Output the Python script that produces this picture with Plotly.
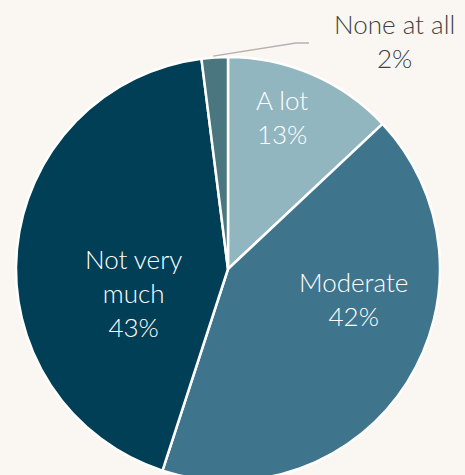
import plotly.graph_objects as go

# Survey answers, clockwise from 12 o'clock
categories = ["A lot", "Moderate", "Not very much", "None at all"]
shares = [13, 42, 43, 2]
slice_colors = ["#92B6C0", "#3F748D", "#013F56", "#4A7680"]

# Label text lines per slice (the category may wrap)
label_lines = [["A lot"], ["Moderate"], ["Not very", "much"], ["None at all"]]

BG = "#FAF7F2"
FONT = "Lato"

fig = go.Figure(
    go.Pie(
        labels=categories,
        values=shares,
        sort=False,
        direction="clockwise",
        rotation=0,
        marker=dict(colors=slice_colors, line=dict(color="white", width=2.5)),
        textinfo="none",
        hoverinfo="label+percent",
        showlegend=False,
        domain=dict(x=[0, 1], y=[0, 1]),
    )
)

# Label anchor positions in paper coordinates and their font colours
label_pos = [(0.627, 0.858), (0.795, 0.429), (0.276, 0.443), (0.892, 1.038)]
label_colors = ["white", "white", "white", "#404040"]

for lines, share, (x, y), col in zip(label_lines, shares, label_pos, label_colors):
    fig.add_annotation(
        x=x, y=y, xref="paper", yref="paper",
        text="<br>".join(lines + [f"{share}%"]),
        showarrow=False,
        font=dict(family=FONT, size=26, color=col, weight=300),
        align="center",
        xanchor="center", yanchor="middle",
    )

# Leader line for the small slice
fig.add_shape(
    type="path",
    path="M 0.465 1.002 L 0.660 1.033 L 0.691 1.033",
    xref="paper", yref="paper",
    line=dict(color="#B9AEAE", width=1.3),
)

# The pie runs slightly past the bottom of the window
fig.update_layout(
    width=465, height=481,
    margin=dict(l=16, r=25, t=57, b=0),
    paper_bgcolor=BG, plot_bgcolor=BG,
    font=dict(family=FONT),
)
fig.write_html(
    "out.html",
    post_script=(
        "document.documentElement.style.overflow='hidden';"
        "document.body.style.overflow='hidden';"
        "document.body.style.margin='0';"
        "document.body.style.background='" + BG + "';"
    ),
)
